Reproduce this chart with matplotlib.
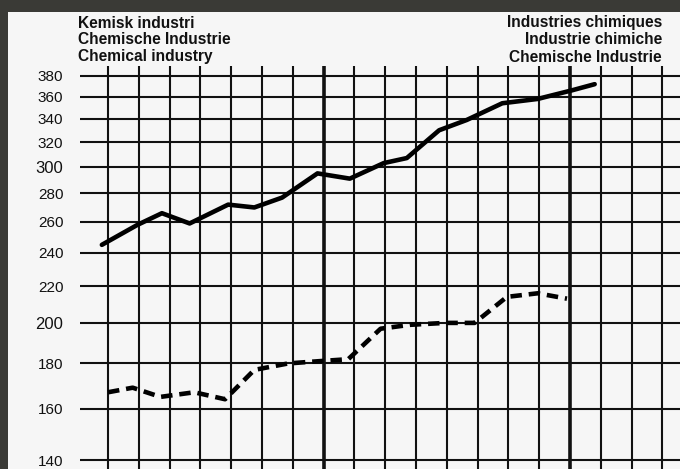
import numpy as np
import matplotlib.pyplot as plt
from matplotlib.patches import Rectangle

plt.rcParams['font.family'] = ['Liberation Sans', 'DejaVu Sans']

# values (x = position in grid columns)
solid_x = [-0.2, 0.95, 1.75, 2.65, 3.9, 4.75, 5.65, 6.8, 7.85, 8.95, 9.7, 10.75, 11.65, 12.8, 13.95, 15.05, 15.8]
solid_y = [245, 258, 266, 259, 272, 270, 277, 295, 291, 303, 307, 330, 339, 354, 358, 366, 372]

dash_x = [0.0, 0.8, 1.7, 2.8, 3.8, 4.75, 5.85, 6.8, 7.8, 8.85, 9.8, 10.95, 11.9, 12.95, 13.95, 14.9]
dash_y = [167, 169, 165, 167, 164, 177, 180, 181, 182, 197, 199, 200, 200, 214, 216, 213]

yticks = [140, 160, 180, 200, 220, 240, 260, 280, 300, 320, 340, 360, 380]
n_cols = 19
thick_cols = [7, 15]

left_title = ["Kemisk industri", "Chemische Industrie", "Chemical industry"]
right_title = ["Industries chimiques", "Industrie chimiche", "Chemische Industrie"]

W, H = 680, 469
fig = plt.figure(figsize=(W / 100, H / 100), dpi=100)
fig.patch.set_facecolor('#3a3a36')
fig.add_artist(Rectangle((8 / W, 0), 1, 1 - 12 / H, transform=fig.transFigure,
                         facecolor='#f6f6f6', edgecolor='none', zorder=-5))

ax = fig.add_axes([80 / W, 0, 600 / W, 1 - 66 / H])
ax.set_facecolor('none')
ax.set_yscale('log')
ax.set_ylim(136.8, 390)
ax.set_xlim(-0.91, 18.57)

# grid
for i in range(n_cols):
    ax.axvline(i, color='#111111', lw=2.6 if i in thick_cols else 1.5, zorder=1)
for v in yticks:
    ax.axhline(v, color='#111111', lw=1.5, zorder=1)

ax.plot(solid_x, solid_y, color='black', lw=3.3, solid_capstyle='round',
        solid_joinstyle='round', zorder=3)
ax.plot(dash_x, dash_y, color='black', lw=3.3, dashes=(2.5, 1.5), zorder=3)

ax.set_xticks([])
ax.set_yticks(yticks)
ax.set_yticklabels([str(v) for v in yticks])
ax.yaxis.set_minor_locator(plt.NullLocator())
ax.tick_params(axis='y', length=0, pad=12, labelsize=11, labelcolor='#111111')
for lbl in ax.get_yticklabels():
    if lbl.get_text() in ('200', '300'):
        lbl.set_fontsize(12)
for s in ax.spines.values():
    s.set_visible(False)

for k, (lt, rt) in enumerate(zip(left_title, right_title)):
    y = 1 - (23 + 17 * k) / H
    fig.text(78 / W, y, lt, ha='left', va='center', fontsize=11.2, fontweight='bold', color='#111111')
    fig.text(662 / W, y, rt, ha='right', va='center', fontsize=11.2, fontweight='bold', color='#111111')

plt.savefig('out.png', dpi=100, facecolor=fig.get_facecolor())
